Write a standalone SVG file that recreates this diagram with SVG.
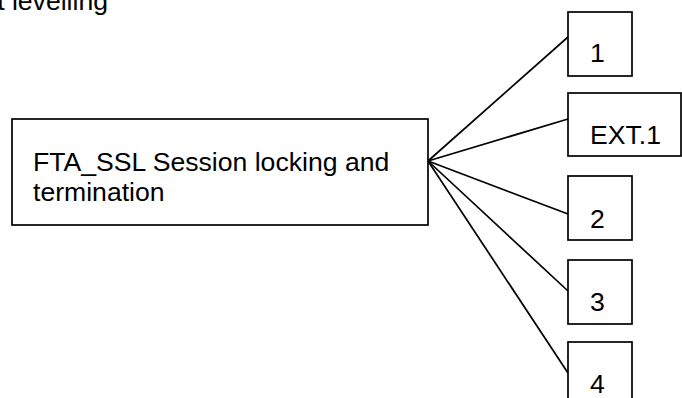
<svg xmlns="http://www.w3.org/2000/svg" width="682" height="398" viewBox="0 0 682 398">
<style>
.box{fill:#fff;stroke:#000;stroke-width:1.7}
.t{font-family:"Liberation Sans",Arial,sans-serif;font-size:26.6px;fill:#000}
.c{stroke:#000;stroke-width:1.7;fill:none}
</style>
<rect width="682" height="398" fill="#fff"/>
<text class="t" x="108" y="10" text-anchor="end">t levelling</text>
<g id="connectors">
<line class="c" x1="428" y1="161" x2="568" y2="37"/>
<line class="c" x1="428" y1="161" x2="568" y2="119"/>
<line class="c" x1="428" y1="161" x2="568" y2="214"/>
<line class="c" x1="428" y1="161" x2="568" y2="291"/>
<line class="c" x1="428" y1="161" x2="568" y2="373"/>
</g>
<g id="main">
<rect class="box" x="12" y="119" width="416" height="106"/>
<text class="t" x="33" y="171">FTA_SSL Session locking and</text>
<text class="t" x="33" y="201">termination</text>
</g>
<g id="n1">
<rect class="box" x="568" y="12" width="64" height="64"/>
<text class="t" x="590" y="62">1</text>
</g>
<g id="ext1">
<rect class="box" x="568" y="93" width="113" height="63"/>
<text class="t" x="590" y="144">EXT.1</text>
</g>
<g id="n2">
<rect class="box" x="568" y="176" width="64" height="64"/>
<text class="t" x="590" y="228">2</text>
</g>
<g id="n3">
<rect class="box" x="568" y="260" width="64" height="64"/>
<text class="t" x="590" y="311">3</text>
</g>
<g id="n4">
<rect class="box" x="568" y="342" width="64" height="64"/>
<text class="t" x="590" y="393">4</text>
</g>
</svg>
